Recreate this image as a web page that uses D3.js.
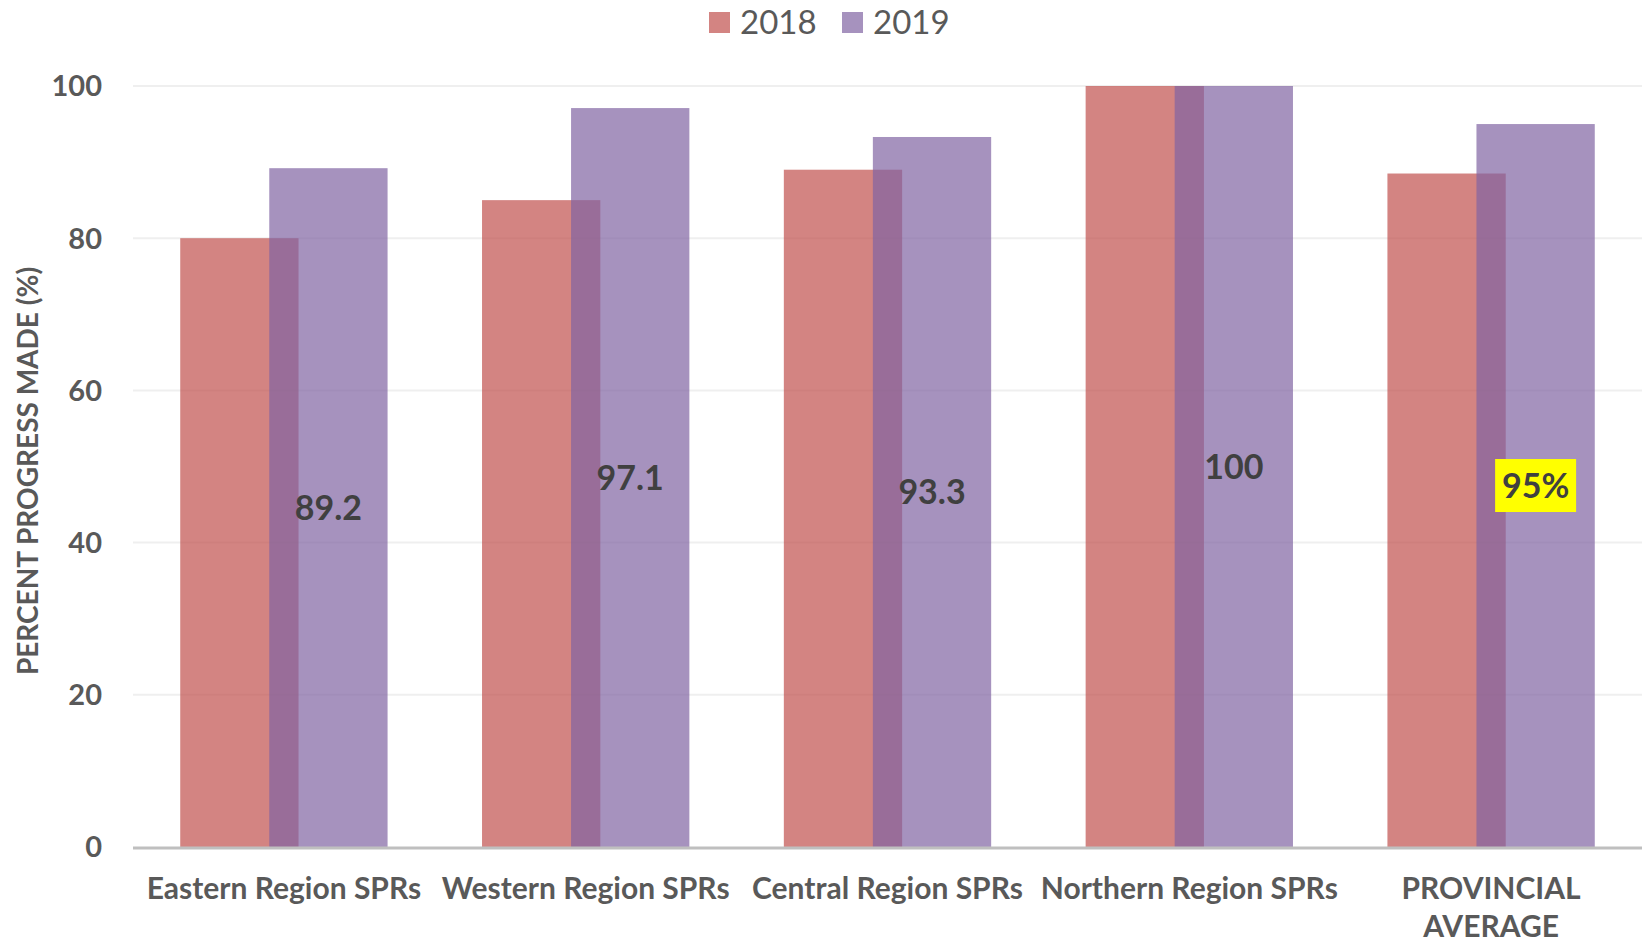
<!DOCTYPE html>
<html>
<head>
<meta charset="utf-8">
<script src="https://cdn.jsdelivr.net/npm/d3@7"></script>
<style>
  html, body { margin: 0; padding: 0; background: #fff; }
  svg text { font-family: Lato, "Open Sans", sans-serif; }
</style>
</head>
<body>
<svg id="chart" width="1645" height="942"></svg>
<script>
// ---- data ----
const categories = ["Eastern Region SPRs", "Western Region SPRs", "Central Region SPRs", "Northern Region SPRs", "PROVINCIAL AVERAGE"];
const seriesNames = ["2018", "2019"];
const values2018 = [80, 85, 89, 100, 88.5];
const values2019 = [89.2, 97.1, 93.3, 100, 95];
const labels2019 = ["89.2", "97.1", "93.3", "100", "95%"];
const yTicks = [0, 20, 40, 60, 80, 100];

// ---- layout ----
const W = 1645, H = 942;
const plot = { left: 133, right: 1642, top: 86, bottom: 847 };
const colors = { "2018": "#C0504D", "2019": "#8064A2" };
const barOpacity = 0.7;

const svg = d3.select("#chart");

const x = d3.scaleBand()
  .domain(categories)
  .range([plot.left, plot.right])
  .paddingInner(0)
  .paddingOuter(0);

const y = d3.scaleLinear()
  .domain([0, 100])
  .range([plot.bottom, plot.top]);

const bw = x.bandwidth();
const barWidth = bw * 0.392;
const offset = bw * 0.1475; // overlapping bars

// gridlines
svg.append("g")
  .selectAll("line")
  .data(yTicks.filter(d => d > 0))
  .join("line")
  .attr("x1", plot.left)
  .attr("x2", plot.right)
  .attr("y1", d => y(d))
  .attr("y2", d => y(d))
  .attr("stroke", "#EFEFEF")
  .attr("stroke-width", 2);

// bars
const series = [
  { name: "2018", values: values2018, dx: -offset },
  { name: "2019", values: values2019, dx: offset }
];

series.forEach(s => {
  svg.append("g")
    .selectAll("rect")
    .data(categories)
    .join("rect")
    .attr("x", (d, i) => x(d) + bw / 2 + s.dx - barWidth / 2)
    .attr("y", (d, i) => y(s.values[i]))
    .attr("width", barWidth)
    .attr("height", (d, i) => y(0) - y(s.values[i]))
    .attr("fill", colors[s.name])
    .attr("fill-opacity", barOpacity);
});

// baseline
svg.append("line")
  .attr("x1", plot.left)
  .attr("x2", plot.right)
  .attr("y1", y(0) + 1)
  .attr("y2", y(0) + 1)
  .attr("stroke", "#BFBFBF")
  .attr("stroke-width", 3);

// y tick labels
svg.append("g")
  .selectAll("text")
  .data(yTicks)
  .join("text")
  .attr("x", 102)
  .attr("y", d => y(d))
  .attr("dy", "0.36em")
  .attr("text-anchor", "end")
  .attr("font-size", 29)
  .attr("font-weight", "bold")
  .attr("fill", "#595959")
  .text(d => d);

// y axis title
svg.append("text")
  .attr("transform", "translate(27,471) rotate(-90)")
  .attr("text-anchor", "middle")
  .attr("dominant-baseline", "central")
  .attr("font-size", 28)
  .attr("font-weight", "bold")
  .attr("fill", "#595959")
  .text("PERCENT PROGRESS MADE (%)");

// category labels
const catG = svg.append("g");
categories.forEach(c => {
  const lines = c === "PROVINCIAL AVERAGE" ? ["PROVINCIAL", "AVERAGE"] : [c];
  const t = catG.append("text")
    .attr("x", x(c) + bw / 2)
    .attr("y", 899)
    .attr("text-anchor", "middle")
    .attr("font-size", 30)
    .attr("font-weight", "bold")
    .attr("fill", "#595959");
  lines.forEach((l, i) => {
    t.append("tspan")
      .attr("x", x(c) + bw / 2)
      .attr("y", 899 + i * 38)
      .text(l);
  });
});

// data labels for 2019 (centre of bar)
categories.forEach((c, i) => {
  const cx = x(c) + bw / 2 + offset;
  const cy = y(values2019[i] / 2);
  const isAvg = i === categories.length - 1;
  if (isAvg) {
    svg.append("rect")
      .attr("x", cx - 40.5)
      .attr("y", cy - 26.5)
      .attr("width", 81)
      .attr("height", 53)
      .attr("fill", "#FFFF00");
  }
  svg.append("text")
    .attr("x", cx)
    .attr("y", cy)
    .attr("dy", "0.36em")
    .attr("text-anchor", "middle")
    .attr("font-size", 34)
    .attr("font-weight", "bold")
    .attr("fill", "#404040")
    .text(labels2019[i]);
});

// legend
const legendItems = [
  { name: seriesNames[0], x: 709 },
  { name: seriesNames[1], x: 842 }
];
const lg = svg.append("g");
legendItems.forEach(item => {
  lg.append("rect")
    .attr("x", item.x)
    .attr("y", 12)
    .attr("width", 21)
    .attr("height", 21)
    .attr("fill", colors[item.name])
    .attr("fill-opacity", barOpacity);
  lg.append("text")
    .attr("x", item.x + 31)
    .attr("y", 34)
    .attr("font-size", 33)
    .attr("fill", "#595959")
    .text(item.name);
});
</script>
</body>
</html>
